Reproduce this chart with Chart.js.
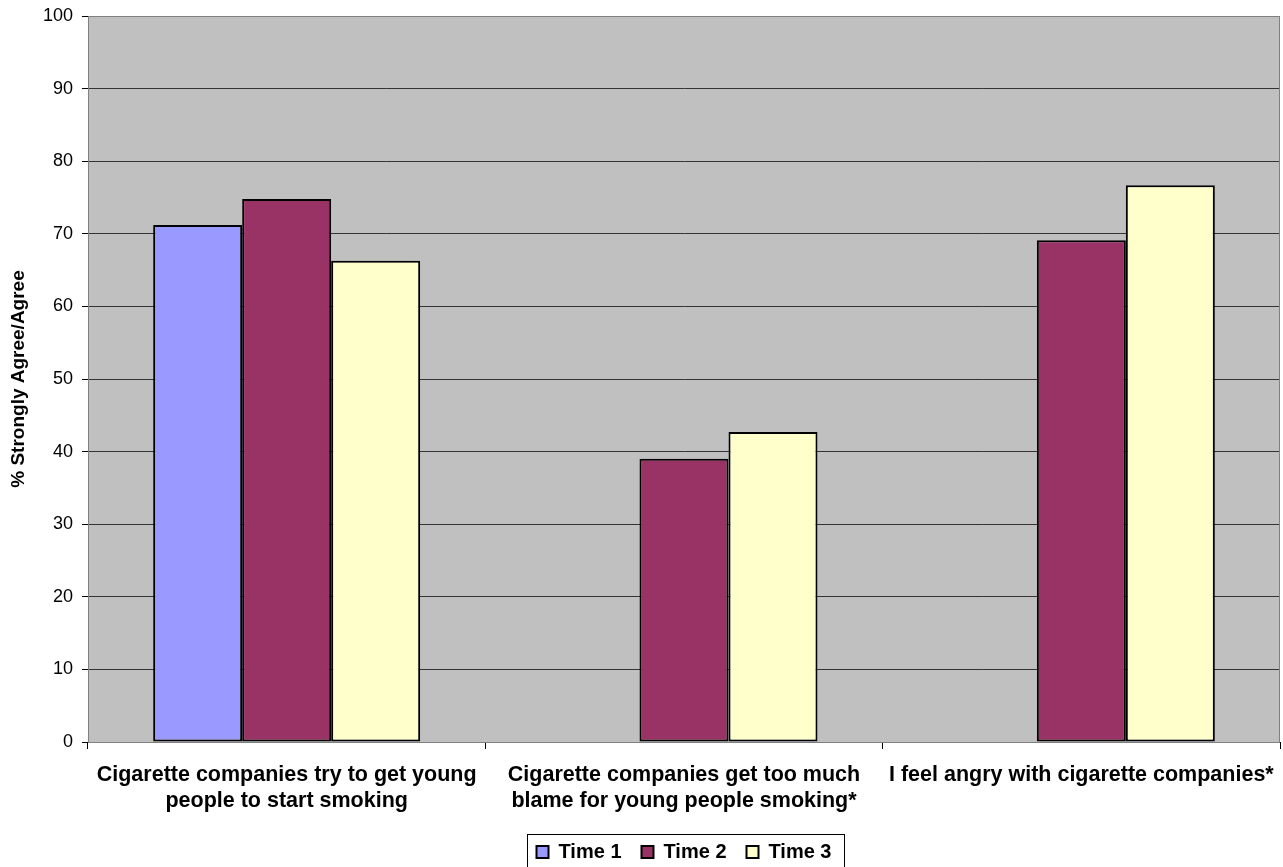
<!DOCTYPE html>
<html>
<head>
<meta charset="utf-8">
<script src="https://cdn.jsdelivr.net/npm/chart.js@4.4.0/dist/chart.umd.min.js"></script>
<style>
  html, body { margin: 0; padding: 0; background: #fff; }
</style>
</head>
<body>
<canvas id="barChart" width="1283" height="867"></canvas>
<script>
var categories = [
  ["Cigarette companies try to get young", "people to start smoking"],
  ["Cigarette companies get too much", "blame for young people smoking*"],
  ["I feel angry with cigarette companies*"]
];
var seriesNames = ["Time 1", "Time 2", "Time 3"];
var time1 = [71.2, null, null];
var time2 = [74.8, 39.0, 69.1];
var time3 = [66.3, 42.7, 76.7];
var yMin = 0, yMax = 100, yStep = 10;
var yTitle = "% Strongly Agree/Agree";

var barColors = ["#9999FF", "#993366", "#FFFFCC"];
var fontFam = "'Liberation Sans', Arial, sans-serif";

// grey plot background + grey frame
var plotBg = {
  id: "plotBg",
  beforeDraw: function (chart) {
    var a = chart.chartArea, c = chart.ctx;
    c.save();
    c.fillStyle = "#C0C0C0";
    c.fillRect(a.left, a.top, a.right - a.left, a.bottom - a.top);
    c.restore();
  },
  beforeDatasetsDraw: function (chart) {
    var a = chart.chartArea, c = chart.ctx;
    c.save();
    c.strokeStyle = "#808080";
    c.lineWidth = 1;
    c.strokeRect(a.left + 0.5, a.top + 0.5, a.right - a.left - 1, a.bottom - a.top);
    c.restore();
  }
};

// box around the legend
var legendFrame = {
  id: "legendFrame",
  afterDraw: function (chart) {
    var boxes = chart.legend.legendHitBoxes;
    if (!boxes || !boxes.length) return;
    var l = Infinity, r = -Infinity, t = Infinity;
    boxes.forEach(function (h) {
      l = Math.min(l, h.left); r = Math.max(r, h.left + h.width);
      t = Math.min(t, h.top);
    });
    var c = chart.ctx;
    c.save();
    c.strokeStyle = "#000";
    c.lineWidth = 1;
    c.strokeRect(Math.round(l - 10) + 0.5, Math.round(t - 8) + 0.5, Math.round(r - l + 22), 60);
    c.restore();
  }
};

new Chart("barChart", {
  type: "bar",
  data: {
    labels: categories,
    datasets: [
      { label: seriesNames[0], data: time1, backgroundColor: barColors[0], borderColor: "#000", borderWidth: 2 },
      { label: seriesNames[1], data: time2, backgroundColor: barColors[1], borderColor: "#000", borderWidth: 2 },
      { label: seriesNames[2], data: time3, backgroundColor: barColors[2], borderColor: "#000", borderWidth: 2 }
    ]
  },
  options: {
    responsive: false,
    animation: false,
    layout: { padding: { top: 16, right: 3, left: 0, bottom: -5 } },
    datasets: { bar: { barPercentage: 1, categoryPercentage: 0.672, borderSkipped: false } },
    plugins: {
      tooltip: { enabled: false },
      legend: {
        position: "bottom",
        fullSize: false,
        labels: {
          color: "#000",
          font: { family: fontFam, size: 20, weight: "bold" },
          boxWidth: 12,
          boxHeight: 12,
          padding: 20
        }
      }
    },
    scales: {
      x: {
        offset: true,
        grid: { offset: true, drawOnChartArea: false, color: "#000", tickLength: 7 },
        border: { color: "#000", width: 1 },
        ticks: {
          color: "#000",
          maxRotation: 0,
          padding: 13,
          font: { family: fontFam, size: 21.5, weight: "bold", lineHeight: 1.2 }
        },
        afterFit: function (s) { s.height = 80; s.paddingLeft = 0; s.paddingRight = 0; }
      },
      y: {
        min: yMin,
        max: yMax,
        ticks: {
          stepSize: yStep,
          color: "#000",
          padding: 9,
          font: { family: fontFam, size: 18 }
        },
        grid: { color: "#333", tickColor: "#000", tickLength: 6 },
        border: { color: "#000", width: 1 },
        title: {
          display: true,
          text: yTitle,
          color: "#000",
          padding: { top: 7, bottom: 0 },
          font: { family: fontFam, size: 19, weight: "bold" }
        },
        afterFit: function (s) { s.width = 88; s.paddingTop = 0; s.paddingBottom = 0; }
      }
    }
  },
  plugins: [plotBg, legendFrame]
});
</script>
</body>
</html>
